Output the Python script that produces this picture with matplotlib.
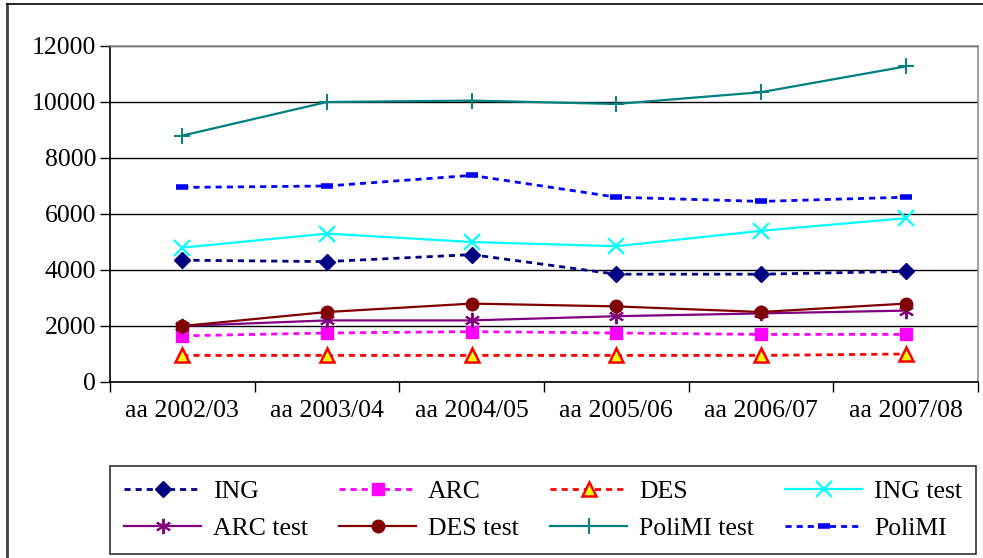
import numpy as np
import matplotlib.pyplot as plt
from matplotlib.lines import Line2D

plt.rcParams['font.family'] = ['Liberation Serif', 'DejaVu Serif']

years = ['aa 2002/03', 'aa 2003/04', 'aa 2004/05', 'aa 2005/06', 'aa 2006/07', 'aa 2007/08']

ing = [4350, 4300, 4550, 3850, 3850, 3950]
arc = [1650, 1750, 1800, 1750, 1700, 1700]
des = [950, 950, 950, 950, 950, 1000]
ing_test = [4800, 5300, 5000, 4850, 5400, 5850]
arc_test = [2000, 2200, 2200, 2350, 2450, 2550]
des_test = [2000, 2500, 2800, 2700, 2500, 2800]
polimi_test = [8800, 10000, 10050, 9930, 10350, 11270]
polimi = [6950, 7000, 7380, 6600, 6450, 6600]

fig = plt.figure(figsize=(9.83, 5.58), dpi=100)
ax = fig.add_axes([110/983, 1-382/558, 868/983, 336/558])

x = np.arange(len(years))
dot = (0, (2.2, 1.8))
fs = 18.5

h_ing, = ax.plot(x, ing, color='#000080', ls=dot, lw=2, marker='D', ms=8, label='ING')
h_arc, = ax.plot(x, arc, color='#FF00FF', ls=dot, lw=2, marker='s', ms=8, label='ARC')
h_des, = ax.plot(x, des, color='#FF0000', ls=dot, lw=2, marker='^', ms=10,
                 mfc='#FFFF00', mec='#FF0000', mew=1.8, label='DES')
h_ingt, = ax.plot(x, ing_test, color='#00FFFF', lw=1.6, marker='x', ms=11, mew=1.6, label='ING test')
h_arct, = ax.plot(x, arc_test, color='#800080', lw=1.6, marker=(6, 2, 0), ms=11, mew=1.4, label='ARC test')
h_dest, = ax.plot(x, des_test, color='#800000', lw=1.6, marker='o', ms=9, label='DES test')
h_polt, = ax.plot(x, polimi_test, color='#008080', lw=1.6, marker='+', ms=12, mew=1.4, label='PoliMI test')
h_pol, = ax.plot(x, polimi, color='#0000FF', ls=dot, lw=2, marker='_', ms=9, mew=4, label='PoliMI')

ax.set_xlim(-0.5, len(years) - 0.5)
ax.set_ylim(0, 12000)
ax.set_yticks(np.arange(0, 12001, 2000))
ax.set_xticks(x)
ax.set_xticklabels(years)
ax.set_xticks(np.arange(-0.5, len(years)), minor=True)
ax.tick_params(axis='x', which='major', length=0, labelsize=fs, pad=13)
ax.tick_params(axis='x', which='minor', length=7, width=1, direction='out')
ax.tick_params(axis='y', length=7, width=1, direction='out', labelsize=fs, pad=3)
ax.grid(axis='y', color='black', lw=1)
ax.set_axisbelow(True)
ax.spines['left'].set_color('black')
ax.spines['bottom'].set_color('black')
ax.spines['top'].set_color('#909090')
ax.spines['right'].set_color('#909090')
for s in ax.spines.values():
    s.set_linewidth(1.2)

# ordine per righe come nel grafico originale (matplotlib riempie per colonne)
handles = [h_ing, h_arct, h_arc, h_dest, h_des, h_polt, h_ingt, h_pol]
leg = fig.legend(handles=handles, labels=[h.get_label() for h in handles],
                 ncol=4, loc='lower left', mode='expand',
                 bbox_to_anchor=(110/983, 1-554/558, 866/983, 87/558),
                 fontsize=fs, frameon=True, fancybox=False, edgecolor='black',
                 handlelength=3.0, handletextpad=0.45, borderaxespad=0,
                 labelspacing=0.55, columnspacing=0.6, borderpad=0.55)
leg.get_frame().set_linewidth(1.2)

# bordo dell'area del grafico
fig.add_artist(Line2D([7/983, 7/983], [0, 1-4/558], transform=fig.transFigure,
                      color='#404040', lw=2))
fig.add_artist(Line2D([7/983, 1], [1-4/558, 1-4/558], transform=fig.transFigure,
                      color='black', lw=1.2))

fig.savefig('out.png', dpi=100)
